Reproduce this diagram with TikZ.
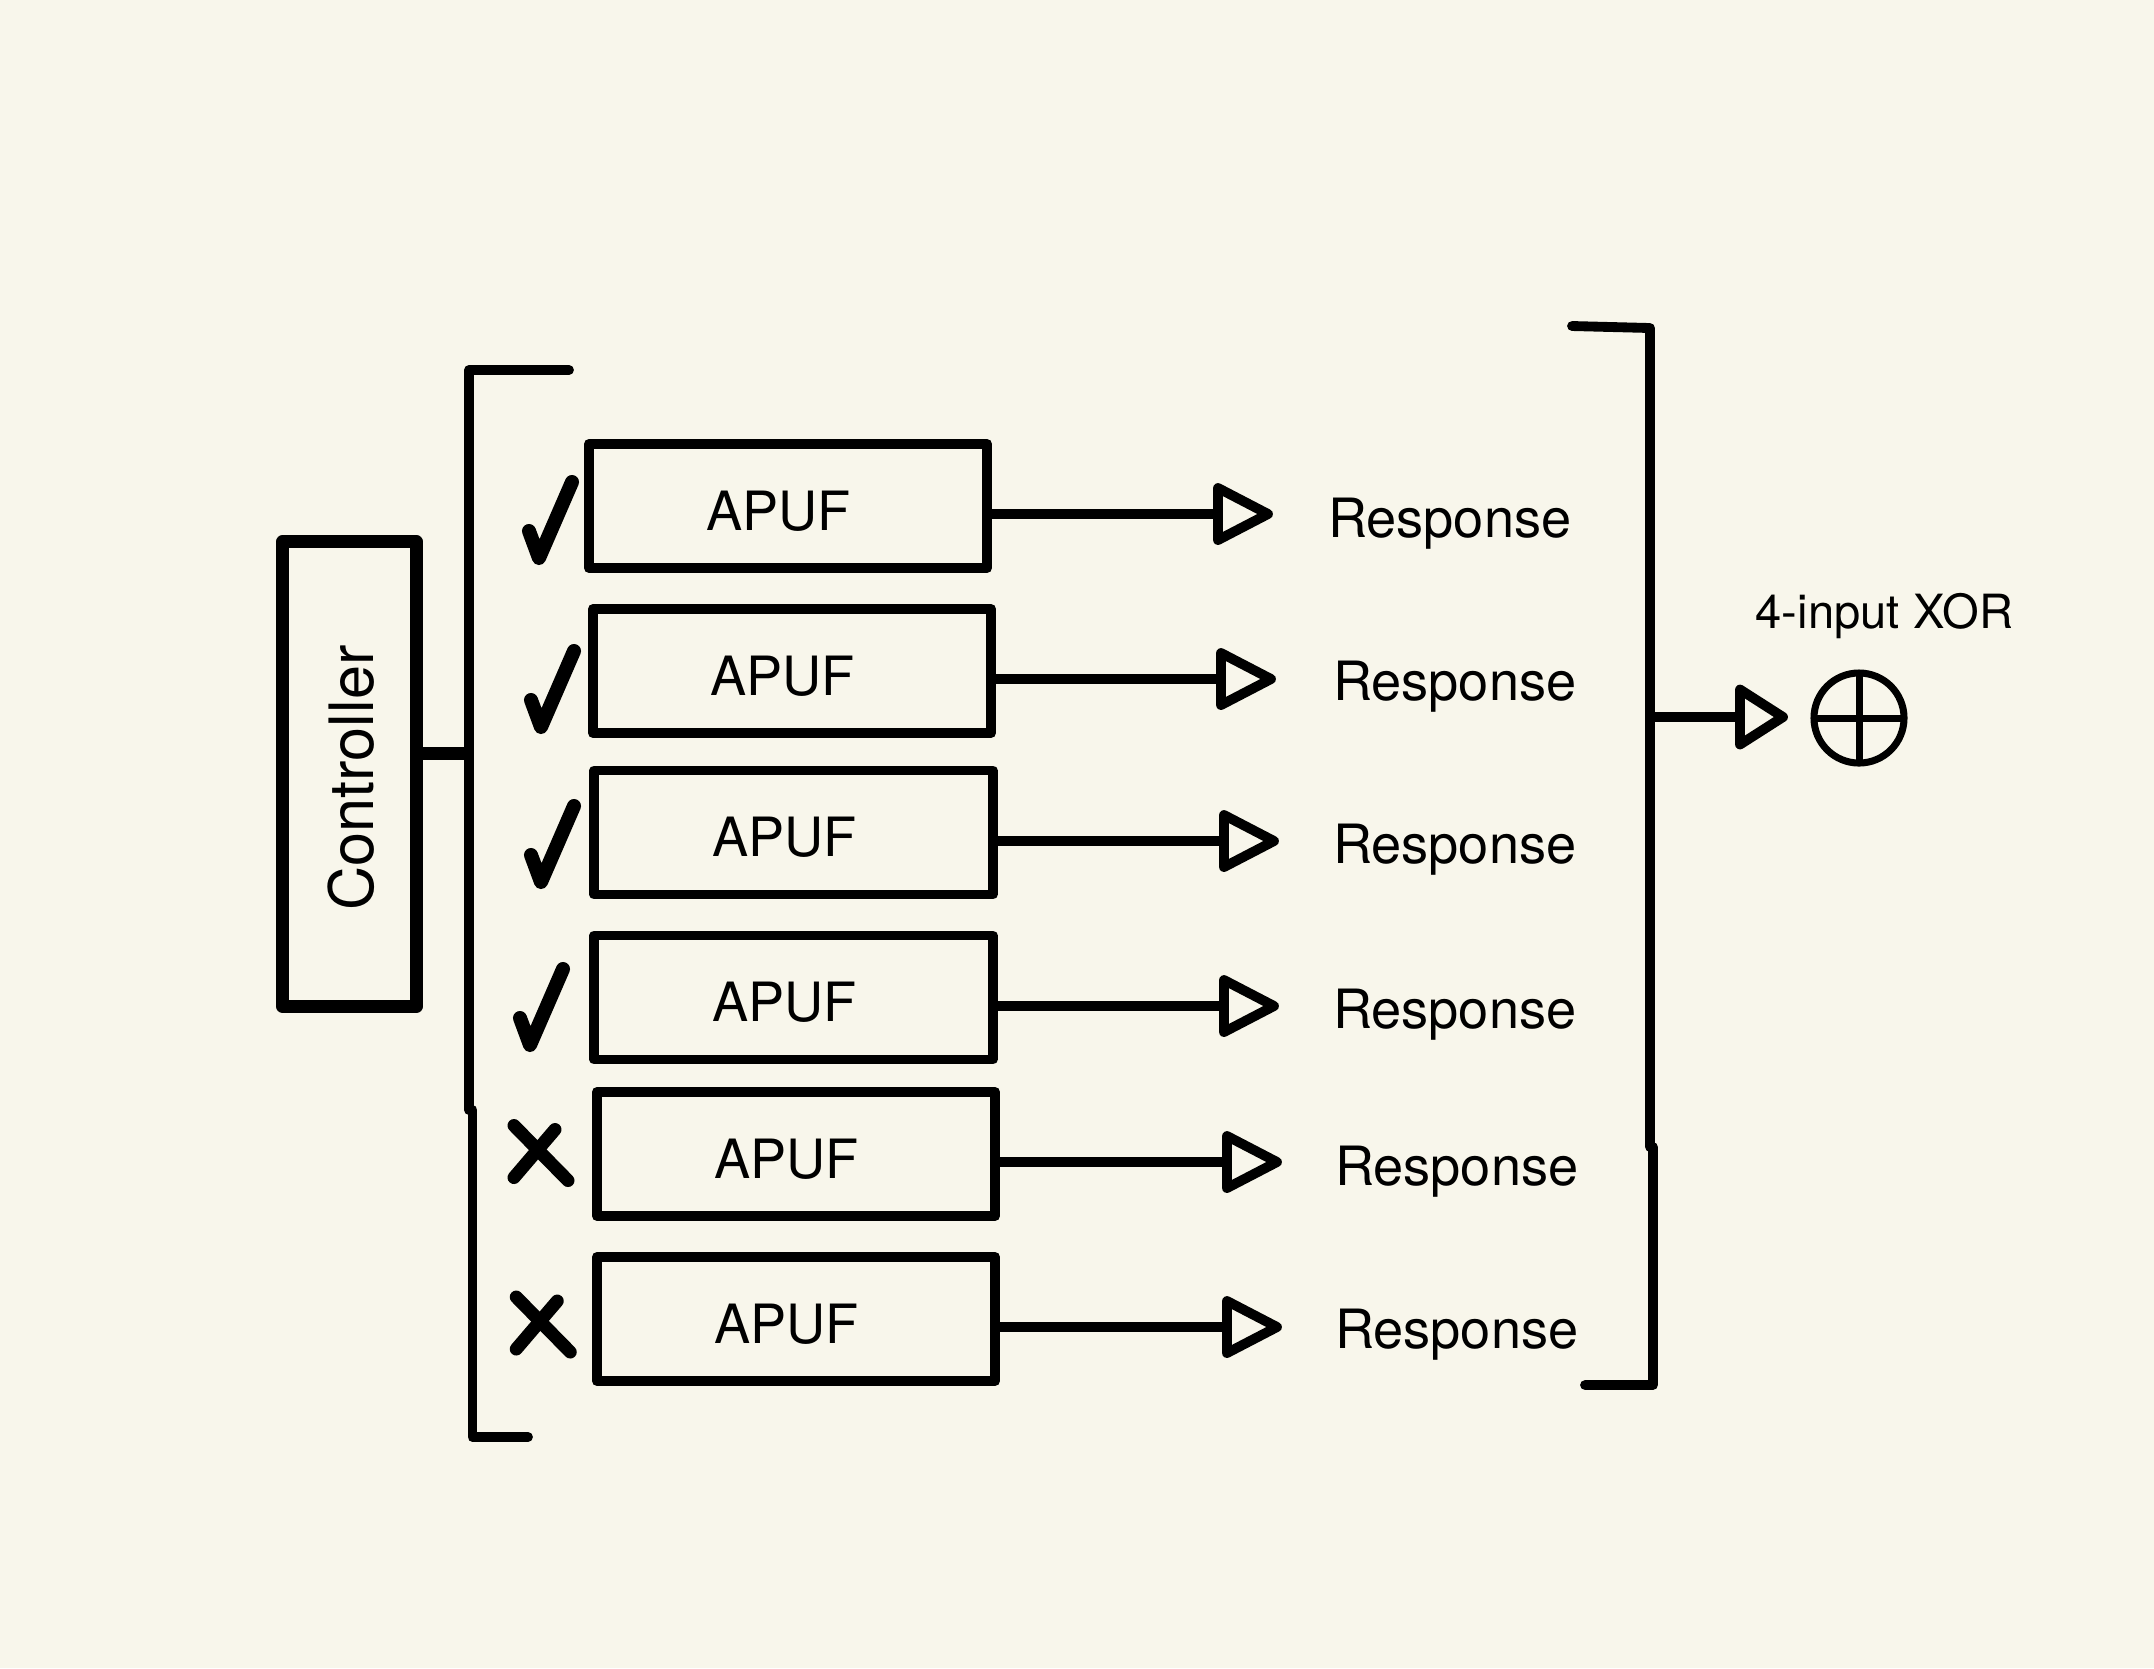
\documentclass[tikz,border=0pt]{standalone}
\usepackage{fontspec}
\setmainfont{TeX Gyre Heros}
\definecolor{bg}{RGB}{248,246,235}
\tikzset{
  arrowtri/.pic={\draw[line width=2.8pt, line join=round] (0,-26) -- (50,0) -- (0,26) -- cycle;},
  xortri/.pic={\draw[line width=2.8pt, line join=round] (0,-27.5) -- (43,0) -- (0,27.5) -- cycle;}
}
\begin{document}
\begin{tikzpicture}[x=0.01cm, y=-0.01cm, line join=round,
  apufbox/.style={draw, line width=2.8pt, minimum width=3.98cm, minimum height=1.24cm, inner sep=0pt, outer sep=0pt},
  ctrlbox/.style={draw, line width=3.7pt, minimum width=1.34cm, minimum height=4.64cm, inner sep=0pt, outer sep=0pt},
  lbl/.style={inner sep=0pt, outer sep=0pt, font=\fontsize{15.4pt}{18pt}\selectfont},
  wire/.style={line width=2.8pt},
  brk/.style={line width=2.8pt, line cap=round, line join=round},
  okmark/.style={line width=4pt, line cap=round, line join=round},
  nomark/.style={line width=3.7pt, line cap=round},
]
\fill[bg] (0,0) rectangle (2154,1668);
\useasboundingbox (0,0) rectangle (2154,1668);

% controller
\node[ctrlbox] (ctrl) at (349.5,774) {};
\node[inner sep=0pt, rotate=90, anchor=base, font=\fontsize{17.4pt}{20pt}\selectfont] (ctrltext) at (373,778) {Controller};

% left bracket
\coordinate (lb1) at (569,370);
\coordinate (lb2) at (469,370);
\coordinate (lb3) at (469,1110);
\coordinate (lb4) at (472.5,1110);
\coordinate (lb5) at (472.5,1437);
\coordinate (lb6) at (528,1437);
\draw[brk] (lb1) -- (lb2) -- (lb3) -- (lb4) -- (lb5) -- (lb6);
\coordinate (cj) at (469,753.5);
\draw[line width=3.7pt] (ctrl.east |- cj) -- (cj);

% APUF boxes
\node[apufbox] (b1) at (788,506) {};
\node[apufbox] (b2) at (792,671) {};
\node[apufbox] (b3) at (793.5,832.5) {};
\node[apufbox] (b4) at (793.5,997.5) {};
\node[apufbox] (b5) at (796,1154) {};
\node[apufbox] (b6) at (796,1319) {};

\node[lbl, anchor=base west] (t1) at (706,530) {APUF};
\node[lbl, anchor=base west] (t2) at (710,695) {APUF};
\node[lbl, anchor=base west] (t3) at (712,856) {APUF};
\node[lbl, anchor=base west] (t4) at (712,1021) {APUF};
\node[lbl, anchor=base west] (t5) at (714,1178) {APUF};
\node[lbl, anchor=base west] (t6) at (714,1343) {APUF};

% arrow triangles
\coordinate (a1) at (1218,514);
\coordinate (a2) at (1221,679);
\coordinate (a3) at (1224,841);
\coordinate (a4) at (1224,1006);
\coordinate (a5) at (1227,1162);
\coordinate (a6) at (1227,1327);
\foreach \i in {1,...,6}{
  \draw[wire] (b\i.east |- a\i) -- (a\i);
  \pic at (a\i) {arrowtri};
}

% responses
\node[lbl, anchor=base west] (r1) at (1328,537) {Response};
\node[lbl, anchor=base west] (r2) at (1333,700) {Response};
\node[lbl, anchor=base west] (r3) at (1333,863) {Response};
\node[lbl, anchor=base west] (r4) at (1333,1028) {Response};
\node[lbl, anchor=base west] (r5) at (1335,1185) {Response};
\node[lbl, anchor=base west] (r6) at (1335,1348) {Response};

% check marks
\coordinate (c1) at (539,558);
\coordinate (c2) at (541,727);
\coordinate (c3) at (541,882);
\coordinate (c4) at (530,1045);
\foreach \i in {1,...,4}{
  \draw[okmark] (c\i) ++(-10,-27) -- (c\i) -- ++(33,-76);
}
% crosses
\coordinate (x5) at (541,1153.5);
\coordinate (x6) at (543.25,1325);
\foreach \i in {5,6}{
  \draw[nomark] (x\i) ++(-27,-28) -- ++(54,55);
  \draw[nomark] (x\i) ++(14,-24) -- ++(-41,48);
}

% right bracket
\coordinate (rb1) at (1572,326);
\coordinate (rb2) at (1650,328);
\coordinate (rb3) at (1650,1147);
\coordinate (rb4) at (1653,1147);
\coordinate (rb5) at (1653,1385);
\coordinate (rb6) at (1585,1385);
\draw[brk] (rb1) -- (rb2) -- (rb3) -- (rb4) -- (rb5) -- (rb6);

% XOR
\coordinate (oj) at (1650,717);
\coordinate (xa) at (1740,717);
\draw[wire] (oj) -- (xa);
\pic at (xa) {xortri};
\node[draw, circle, line width=2pt, minimum size=0.9cm, inner sep=0pt, outer sep=0pt] (xor) at (1859,718) {};
\draw[line width=2pt] (xor.north) -- (xor.south);
\draw[line width=2pt] (xor.west) -- (xor.east);
\node[inner sep=0pt, anchor=base west, font=\fontsize{13.4pt}{16pt}\selectfont] (xorlbl) at (1755,628) {4-input XOR};
\end{tikzpicture}
\end{document}
